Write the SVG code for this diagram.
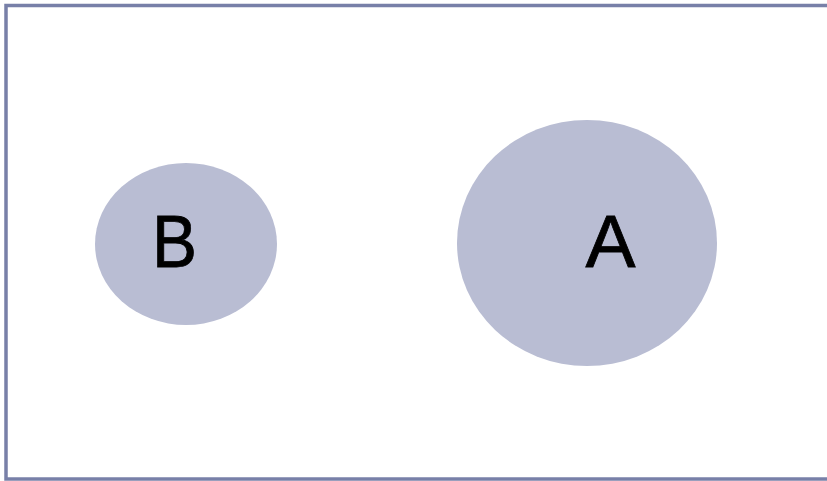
<svg xmlns="http://www.w3.org/2000/svg" width="827" height="481" viewBox="0 0 827 481">
<style>
.node{fill:#b9bdd3;stroke:none}
.lbl{font-family:"Liberation Sans",Arial,sans-serif;font-size:75px;fill:#000;text-anchor:middle;stroke:#000;stroke-width:0.8}
</style>
<rect x="0" y="0" width="827" height="481" fill="#fff"/>
<rect x="6" y="5.5" width="830" height="473.5" fill="none" stroke="#7880a8" stroke-width="3.5"/>
<g id="connectors"></g>
<g id="node-B">
<ellipse class="node" cx="186" cy="244" rx="91" ry="81"/>
<text class="lbl" x="174.5" y="267" textLength="45" lengthAdjust="spacingAndGlyphs">B</text>
</g>
<g id="node-A">
<ellipse class="node" cx="587" cy="243" rx="130" ry="123"/>
<text class="lbl" x="610.5" y="267">A</text>
</g>
</svg>
